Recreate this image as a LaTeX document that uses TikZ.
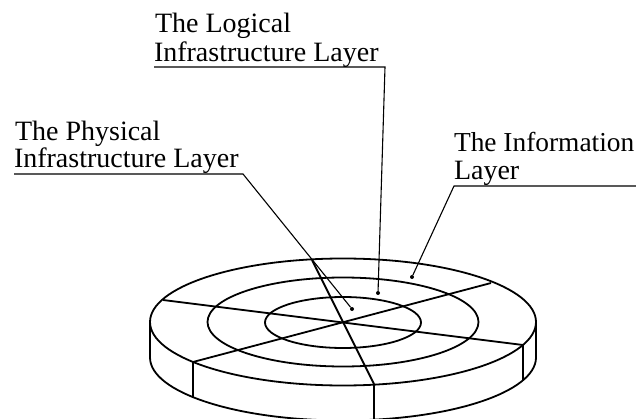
\documentclass[tikz,border=0pt]{standalone}
\usepackage{fontspec}
\setmainfont{Liberation Serif}
\tikzset{
  disc/.style={line width=1.8pt,black},
  leader/.style={line width=1.1pt,black},
  lbl/.style={anchor=base west,inner sep=0pt,outer sep=0pt,font=\fontsize{28}{34}\selectfont},
  lblsmall/.style={anchor=base west,inner sep=0pt,outer sep=0pt,font=\fontsize{27.4}{34}\selectfont},
  pin/.style={circle,fill=black,inner sep=0pt,minimum size=4pt},
}
\begin{document}
\begin{tikzpicture}[x=1pt,y=-1pt]
\useasboundingbox (0,0) rectangle (636,419);
\clip (0,0) rectangle (636,419);
% disc
\draw[disc] (343,322) ellipse [x radius=193pt,y radius=63.5pt];
\draw[disc] (343,322) ellipse [x radius=135.5pt,y radius=44.5pt];
\draw[disc] (343,322.5) ellipse [x radius=78pt,y radius=25.5pt];
\draw[disc] (150,322) -- (150,357.5) arc [start angle=180,end angle=360,x radius=193pt,y radius=63pt] -- (536,322);
\coordinate (s1a) at (163,300); \coordinate (s1b) at (523,345);
\coordinate (s2a) at (193,362); \coordinate (s2b) at (491,283);
\coordinate (s3a) at (312,260); \coordinate (s3b) at (374,384);
\coordinate (e2) at (193,397); \coordinate (e3) at (374,419);
\coordinate (e1) at (523,380);
\draw[disc] (s1a) -- (s1b);
\draw[disc] (s2a) -- (s2b);
\draw[disc] (s3a) -- (s3b);
\draw[disc] (s2a) -- (e2);
\draw[disc] (s3b) -- (e3);
\draw[disc] (s1b) -- (e1);
% labels
\node[lbl] (l1) at (155,33) {The Logical};
\node[lbl] (l2) at (154,62) {Infrastructure Layer};
\node[lbl] (p1) at (15,141) {The Physical};
\node[lbl] (p2) at (14,168) {Infrastructure Layer};
\node[lblsmall] (i1) at (454,152) {The Information};
\node[lbl] (i2) at (454,180) {Layer};
% leaders
\node[pin] (dl) at (378,293) {};
\node[pin] (dp) at (352,309) {};
\node[pin] (di) at (412,277) {};
\coordinate (la) at (154,67); \coordinate (lb) at (385,67);
\coordinate (pa) at (14,174); \coordinate (pb) at (243,174);
\coordinate (ia) at (636,186); \coordinate (ib) at (454,186);
\draw[leader] (la) -- (lb) -- (dl);
\draw[leader] (pa) -- (pb) -- (dp);
\draw[leader] (ia) -- (ib) -- (di);
\end{tikzpicture}
\end{document}
